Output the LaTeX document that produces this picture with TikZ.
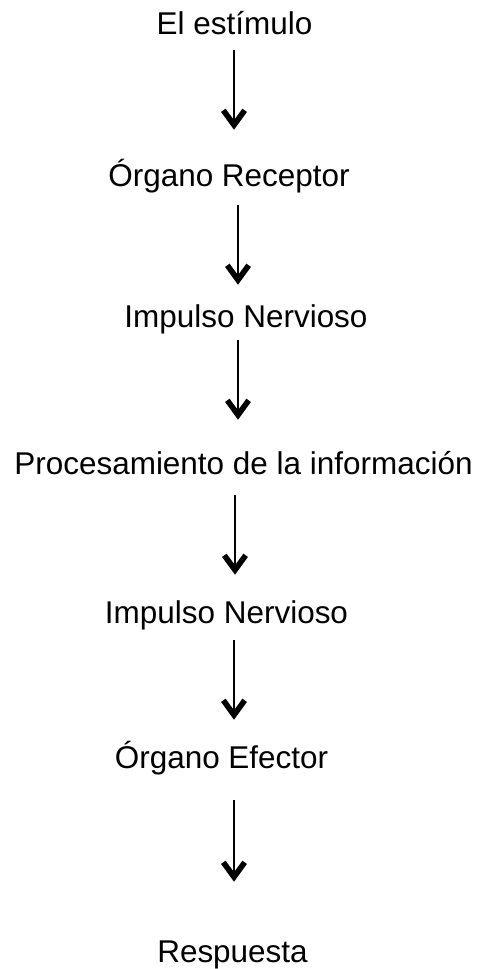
\documentclass[tikz,border=0pt]{standalone}
\usepackage{fontspec}
\setmainfont{Liberation Sans}
\usetikzlibrary{arrows.meta}
\tikzset{
    paso/.style={font=\fontsize{23.6}{28}\selectfont, inner sep=0pt,
        text height=16.5pt, text depth=6pt, anchor=base},
    flecha/.style={line width=2pt,
        -{Straight Barb[length=11pt,width=16pt,line width=4.2pt]}}
}
\begin{document}
\begin{tikzpicture}[x=0.75pt,y=-0.75pt]
        \useasboundingbox (0,0) rectangle (482,969);
        \node[paso] (estimulo) at (234.5,35) {El estímulo};
        \node[paso] (receptor) at (229,187) {Órgano Receptor};
        \node[paso] (impulso) at (246,328) {Impulso Nervioso};
        \node[paso] (proceso) at (243.5,474) {Procesamiento de la información};
        \node[paso] (impulsob) at (226.5,623) {Impulso Nervioso};
        \node[paso] (efector) at (221.5,768) {Órgano Efector};
        \node[paso] (respuesta) at (232.5,962) {Respuesta};
        \foreach \a/\b/\x/\s/\e in {estimulo/receptor/234/5.25pt/26.25pt,
            receptor/impulso/238/7.5pt/15.75pt,
            impulso/proceso/238/3pt/24pt,
            proceso/impulsob/235/9.75pt/19.5pt,
            impulsob/efector/234/6.75pt/19.5pt,
            efector/respuesta/234/18pt/43.5pt}{
            \draw[flecha, shorten <=\s, shorten >=\e](\a.south -| \x,0)--(\b.north -| \x,0);
        }
    \end{tikzpicture}
\end{document}
